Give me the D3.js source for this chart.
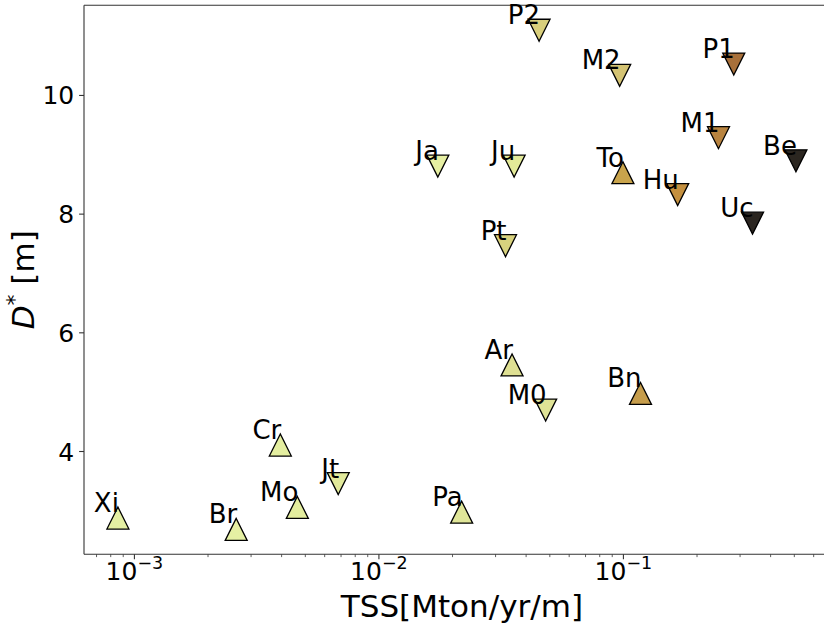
<!DOCTYPE html>
<html>
<head>
<meta charset="utf-8">
<script src="https://cdn.jsdelivr.net/npm/d3@7"></script>
<style>
  body { margin: 0; background: #fff; }
  svg text { font-family: "DejaVu Sans", sans-serif; fill: #000; }
</style>
</head>
<body>
<svg id="chart" width="824" height="627"></svg>
<script>
// Site codes, sediment load (TSS) and depth D* for each station
const sites = ["Xi", "Br", "Cr", "Mo", "Jt", "Pa", "Ar", "M0", "Bn", "P2",
               "M2", "P1", "M1", "Be", "Ja", "Ju", "To", "Hu", "Uc", "Pt"];
const tss = [0.00086, 0.00262, 0.00397, 0.00466, 0.00685, 0.0219, 0.0352, 0.0483, 0.118, 0.0454,
             0.097, 0.284, 0.246, 0.51, 0.0175, 0.0359, 0.100, 0.1675, 0.339, 0.0331];
const depth = [2.87, 2.68, 4.10, 3.05, 3.45, 2.97, 5.45, 4.69, 4.97, 11.09,
               10.33, 10.52, 9.28, 8.89, 8.80, 8.80, 8.69, 8.32, 7.84, 7.46];
const markerShape = ["up", "up", "up", "up", "down", "up", "up", "down", "up", "down",
                     "down", "down", "down", "down", "down", "down", "up", "down", "down", "down"];
const fills = ["#e5f0a3", "#e5f0a3", "#e4eea0", "#e3ed9e", "#e1e99a", "#e0e699", "#dfe093", "#dfe396", "#c69d4c", "#d9cf7c",
               "#d4c373", "#a8703a", "#b98440", "#2b2620", "#e6efa2", "#e3ea98", "#c9a44c", "#c4903f", "#2a2520", "#d8d27e"];

// Axis ticks
const yTicks = [4, 6, 8, 10];
const xTicks = [1e-3, 1e-2, 1e-1];
const xTickExp = ["\u22123", "\u22122", "\u22121"];

(function () {
  const svg = d3.select("#chart");
  const mLeft = 84, mTop = 5.3, mBottom = 554.3;

  // Log-space extent with 5% padding on each side
  const lx = tss.map(Math.log10);
  const lxMin = d3.min(lx), lxMax = d3.max(lx), lxPad = 0.05 * (lxMax - lxMin);
  const yMin = d3.min(depth), yMax = d3.max(depth), yPad = 0.05 * (yMax - yMin);

  const decadePx = 244.5;
  const mRight = mLeft + (lxMax - lxMin + 2 * lxPad) * decadePx;

  const x = d3.scaleLog()
    .domain([Math.pow(10, lxMin - lxPad), Math.pow(10, lxMax + lxPad)])
    .range([mLeft, mRight]);
  const y = d3.scaleLinear()
    .domain([yMin - yPad, yMax + yPad])
    .range([mBottom, mTop]);

  // Minor ticks on the log axis
  const minor = [];
  for (let e = -4; e <= 0; e++) {
    for (let m = 2; m <= 9; m++) {
      const v = m * Math.pow(10, e);
      if (v >= x.domain()[0] && v <= x.domain()[1]) minor.push(v);
    }
  }

  const gMinor = svg.append("g")
    .attr("transform", `translate(0,${mBottom})`)
    .call(d3.axisBottom(x).tickValues(minor).tickSize(2.8).tickFormat(""));
  gMinor.select(".domain").remove();
  gMinor.selectAll("line").attr("stroke", "#333").attr("stroke-width", 0.8);

  const gx = svg.append("g")
    .attr("transform", `translate(0,${mBottom})`)
    .call(d3.axisBottom(x).tickValues(xTicks).tickSize(4.9).tickPadding(4.9).tickFormat(""));
  gx.select(".domain").remove();
  gx.selectAll("line").attr("stroke", "#333").attr("stroke-width", 1.1);
  gx.selectAll(".tick").each(function (d, i) {
    const t = d3.select(this).append("text")
      .attr("x", 0).attr("y", 580 - mBottom)
      .attr("text-anchor", "middle")
      .style("font-size", "25px");
    t.append("tspan").text("10");
    t.append("tspan").attr("dy", -11).style("font-size", "17.5px").text(xTickExp[i]);
  });

  const gy = svg.append("g")
    .attr("transform", `translate(${mLeft},0)`)
    .call(d3.axisLeft(y).tickValues(yTicks).tickSize(4.9).tickPadding(4.9).tickFormat(d3.format("d")));
  gy.select(".domain").remove();
  gy.selectAll("line").attr("stroke", "#333").attr("stroke-width", 1.1);
  gy.selectAll("text")
    .attr("dy", "0.36em")
    .style("font-size", "25px")
    .style("font-family", "'DejaVu Sans', sans-serif");

  // Frame: left, bottom and top spines (right side runs off the canvas)
  const spine = svg.append("g").attr("stroke", "#333").attr("stroke-width", 1.1).attr("fill", "none");
  spine.append("line").attr("x1", mLeft).attr("x2", mLeft).attr("y1", mTop).attr("y2", mBottom);
  spine.append("line").attr("x1", mLeft).attr("x2", mRight).attr("y1", mBottom).attr("y2", mBottom);
  spine.append("line").attr("x1", mLeft).attr("x2", mRight).attr("y1", mTop).attr("y2", mTop);

  // Triangle markers
  const half = 11;
  const triUp = `M0,${-half}L${-half},${half}L${half},${half}Z`;
  const triDown = `M0,${half}L${-half},${-half}L${half},${-half}Z`;

  const idx = d3.range(sites.length);
  svg.append("g").selectAll("path")
    .data(idx)
    .join("path")
    .attr("transform", i => `translate(${x(tss[i])},${y(depth[i])})`)
    .attr("d", i => markerShape[i] === "up" ? triUp : triDown)
    .attr("fill", i => fills[i])
    .attr("stroke", "#000")
    .attr("stroke-width", 1.3)
    .attr("stroke-linejoin", "miter");

  // Site labels, right-aligned and sitting just above each point
  svg.append("g").selectAll("text")
    .data(idx)
    .join("text")
    .attr("x", i => x(tss[i]) + 1)
    .attr("y", i => y(depth[i]) - 6)
    .attr("text-anchor", "end")
    .style("font-size", "26px")
    .text(i => sites[i]);

  // Axis titles
  svg.append("text")
    .attr("x", (mLeft + mRight) / 2 + 5)
    .attr("y", 616.7)
    .attr("text-anchor", "middle")
    .style("font-size", "31px")
    .text("TSS[Mton/yr/m]");

  const yl = svg.append("text")
    .attr("transform", `translate(33.5,${(mTop + mBottom) / 2}) rotate(-90)`)
    .attr("text-anchor", "middle")
    .style("font-size", "31px");
  yl.append("tspan").style("font-style", "italic").text("D");
  yl.append("tspan").attr("dy", -12).style("font-size", "22px").text("*");
  yl.append("tspan").attr("dy", 12).text(" [m]");
})();
</script>
</body>
</html>
